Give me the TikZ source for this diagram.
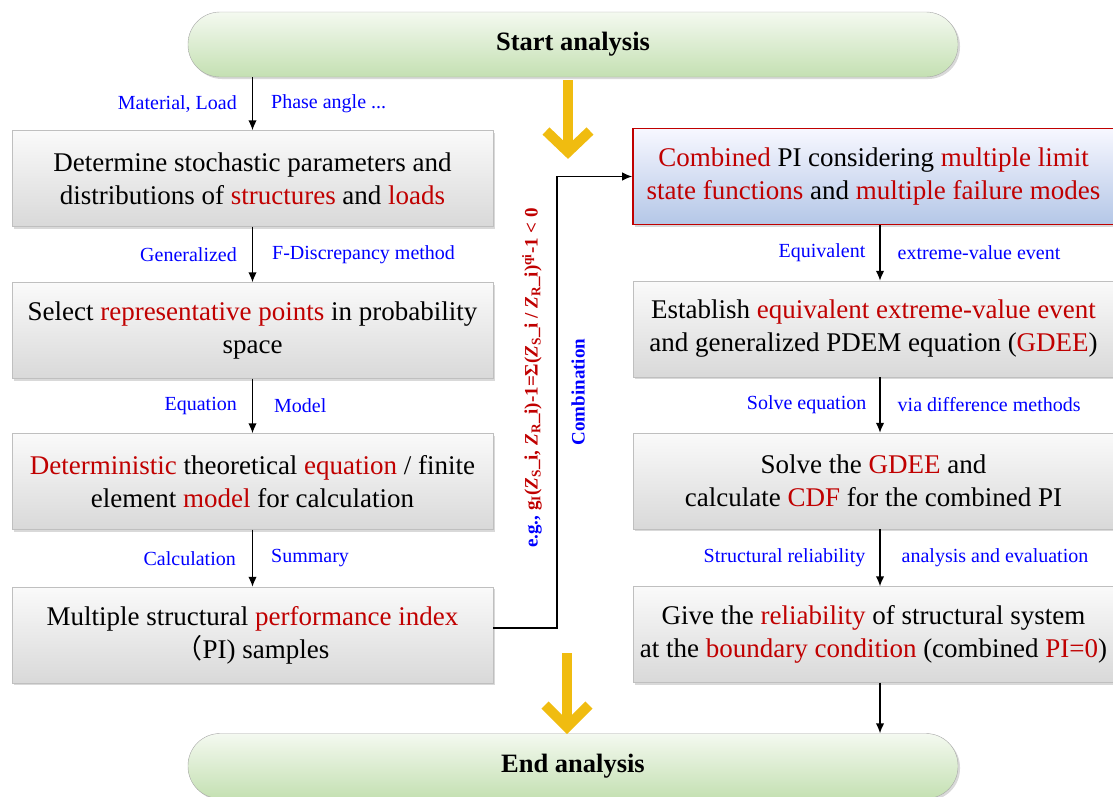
\documentclass[tikz,border=0pt]{standalone}
\usepackage{fontspec}
\setmainfont{Liberation Serif}
\newfontfamily\cjk{Noto Sans CJK SC}
\usetikzlibrary{arrows.meta,shadows}
\definecolor{darkred}{RGB}{192,0,0}
\definecolor{gold}{RGB}{240,188,16}
\newcommand{\hl}[1]{\textcolor{darkred}{#1}}
\newcommand{\zz}[1]{\textit{Z}\textsubscript{#1}\_i}

\begin{document}
\begin{tikzpicture}[x=1pt, y=-1pt]
	\tikzstyle{every node} = [rectangle]
	\tikzstyle{procbox} = [draw=black!25, top color=black!2, bottom color=black!15,
		minimum width=481pt, minimum height=96pt, align=center,
		font=\fontsize{27}{33}\selectfont,
		drop shadow={shadow xshift=2pt, shadow yshift=-2pt, opacity=.3}]
	\tikzstyle{combbox} = [procbox, draw=darkred, line width=1.6pt,
		top color=blue!3, bottom color={rgb,255:red,180;green,199;blue,231}]
	\tikzstyle{endbox} = [draw=black!35, rounded corners=32pt, top color={rgb,255:red,244;green,249;blue,240},
		bottom color={rgb,255:red,196;green,224;blue,178}, minimum width=770pt, minimum height=65pt,
		font=\fontsize{26.5}{30}\selectfont\bfseries,
		drop shadow={shadow xshift=2pt, shadow yshift=-2pt, opacity=.3}]
	\tikzstyle{lab} = [inner sep=0pt, text=blue, font=\fontsize{20}{23}\selectfont]
	\tikzstyle{flow} = [-{Latex[length=10pt,width=8.5pt]}, line width=1.4pt]
	\tikzstyle{goldarrow} = [line width=10pt, draw=gold, miter limit=10]
	\useasboundingbox (0,0) rectangle (1113,796);
	% start and end
	\node[endbox] (start) at (573,44.5) {Start analysis};
	\node[endbox] (end)   at (573,766)  {End analysis};
	% left column
	\node[procbox] (det)   at (252.5,178.5) {Determine stochastic parameters and\\distributions of \hl{structures} and \hl{loads}};
	\node[procbox] (sel)   at (252.5,330.5) {Select \hl{representative points} in probability\\space};
	\node[procbox] (model) at (252.5,481.5) {\hl{Deterministic} theoretical \hl{equation} / finite\\element \hl{model} for calculation};
	\node[procbox] (pi)    at (252.5,635)   {Multiple structural \hl{performance index}\\{\cjk （}PI) samples};
	% right column
	\node[combbox] (comb)  at (873.5,176.5) {\hl{Combined} PI considering \hl{multiple limit}\\\hl{state functions} and \hl{multiple failure modes}};
	\node[procbox] (eqv)   at (873.5,329)   {Establish \hl{equivalent extreme-value event}\\and generalized PDEM equation (\hl{GDEE})};
	\node[procbox] (gdee)  at (873.5,481)   {Solve the \hl{GDEE} and\\calculate \hl{CDF} for the combined PI};
	\node[procbox] (rel)   at (873.5,634.5) {Give the \hl{reliability} of structural system\\at the \hl{boundary condition} (combined \hl{PI=0})};
	% left arrows
	\draw[flow] (start.south -| det.north) -- node[lab, left=15pt] {Material, Load} node[lab, right=18pt] {Phase angle ...} (det.north);
	\draw[flow] (det.south) -- node[lab, left=15pt] {Generalized} node[lab, right=19pt] {F-Discrepancy method} (sel.north);
	\draw[flow] (sel.south) -- node[lab, left=15pt] {Equation} node[lab, right=21pt] {Model} (model.north);
	\draw[flow] (model.south) -- node[lab, left=16pt] {Calculation} node[lab, right=18pt] {Summary} (pi.north);
	% right arrows
	\draw[flow] ([xshift=6.5pt]comb.south) -- node[lab, left=14pt] {Equivalent} node[lab, right=17pt] {extreme-value event} ([xshift=6.5pt]eqv.north);
	\draw[flow] ([xshift=6.5pt]eqv.south) -- node[lab, left=13pt] {Solve equation} node[lab, right=17pt] {via difference methods} ([xshift=6.5pt]gdee.north);
	\draw[flow] ([xshift=6.5pt]gdee.south) -- node[lab, left=14pt] {Structural reliability} node[lab, right=21pt] {analysis and evaluation} ([xshift=6.5pt]rel.north);
	\draw[flow] ([xshift=6.5pt]rel.south) -- ([xshift=6.5pt]rel.south |- end.north);
	% combination connector
	\coordinate (bend) at (557,0);
	\draw[flow] ([yshift=7pt]pi.east) -- ([yshift=7pt]pi.east -| bend) |- (comb.west);
	\node[rotate=90, font=\fontsize{19}{22}\selectfont\bfseries] (cond) at (532,378)
		{\textcolor{blue}{e.g.,} \hl{g\textsubscript{I}(\zz{S}, \zz{R})-1=Σ(\zz{S} / \zz{R})\textsuperscript{qi}-1 < 0}};
	\node[rotate=90, text=blue, font=\fontsize{19}{22}\selectfont\bfseries] (combi) at (578,392) {Combination};
	% gold arrows
	\draw[goldarrow] (568,80) -- (568,148);
	\draw[goldarrow] (546,131) -- (568,152) -- (590,131);
	\draw[goldarrow] (567,653) -- (567,723);
	\draw[goldarrow] (545,705) -- (567,727) -- (589,705);
\end{tikzpicture}
\end{document}
